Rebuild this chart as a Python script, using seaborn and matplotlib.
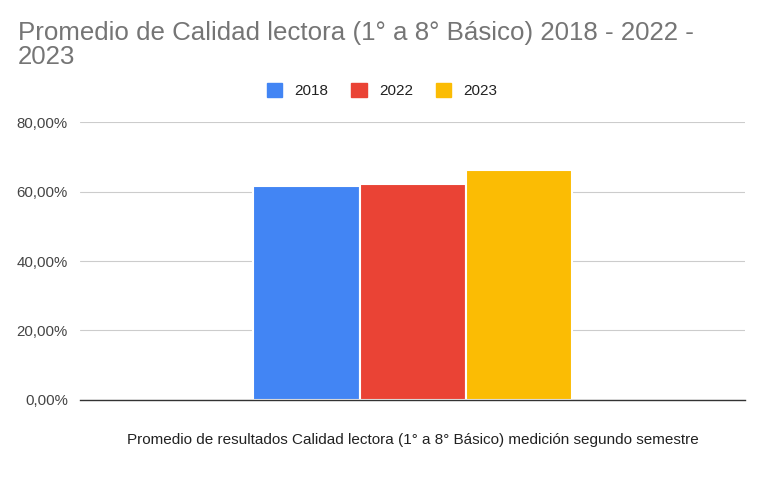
import pandas as pd
import matplotlib.pyplot as plt
import seaborn as sns
from matplotlib.ticker import FuncFormatter

# Datos
categoria = "Promedio de resultados Calidad lectora (1° a 8° Básico) medición segundo semestre"
anios = ["2018", "2022", "2023"]
valores = [61.7, 62.3, 66.1]
colores = ["#4285F4", "#EA4335", "#FBBC04"]
yticks = [0, 20, 40, 60, 80]

df = pd.DataFrame({"cat": [categoria] * len(anios), "anio": anios, "valor": valores})

sns.set_style("white")
plt.rcParams["font.family"] = ["Liberation Sans", "DejaVu Sans"]

fig = plt.figure(figsize=(7.58, 4.83), dpi=100)
ax = fig.add_axes([0.106, 0.172, 0.877, 0.575])

sns.barplot(data=df, x="cat", y="valor", hue="anio", palette=colores, saturation=1,
            width=0.48, edgecolor="white", linewidth=1.5, ax=ax, legend=False)

ax.set_ylim(0, 80)
ax.set_xlim(-0.5, 0.5)
ax.set_yticks(yticks)
ax.yaxis.set_major_formatter(FuncFormatter(lambda v, p: f"{v:.2f}%".replace(".", ",")))
ax.grid(axis="y", color="#cccccc", linewidth=0.8)
ax.set_axisbelow(True)
for s in ["left", "right", "top"]:
    ax.spines[s].set_visible(False)
ax.spines["bottom"].set_color("#333333")
ax.spines["bottom"].set_linewidth(1)
ax.tick_params(axis="y", length=0, labelsize=10.8, labelcolor="#444444", pad=9)
ax.tick_params(axis="x", length=0, labelsize=11, labelcolor="#222222", pad=24)
ax.set_xlabel("")
ax.set_ylabel("")

fig.text(0.024, 0.957, "Promedio de Calidad lectora (1° a 8° Básico) 2018 - 2022 -\n2023",
         ha="left", va="top", fontsize=18.6, color="#757575", linespacing=1.03)

handles = [plt.Rectangle((0, 0), 1, 1, color=c) for c in colores]
fig.legend(handles, anios, loc="center", bbox_to_anchor=(0.504, 0.813), ncol=3,
           frameon=False, fontsize=11, handlelength=1.0, handleheight=1.1,
           columnspacing=1.5, handletextpad=0.8, labelcolor="#222222")

fig.savefig("out.png", dpi=100)
